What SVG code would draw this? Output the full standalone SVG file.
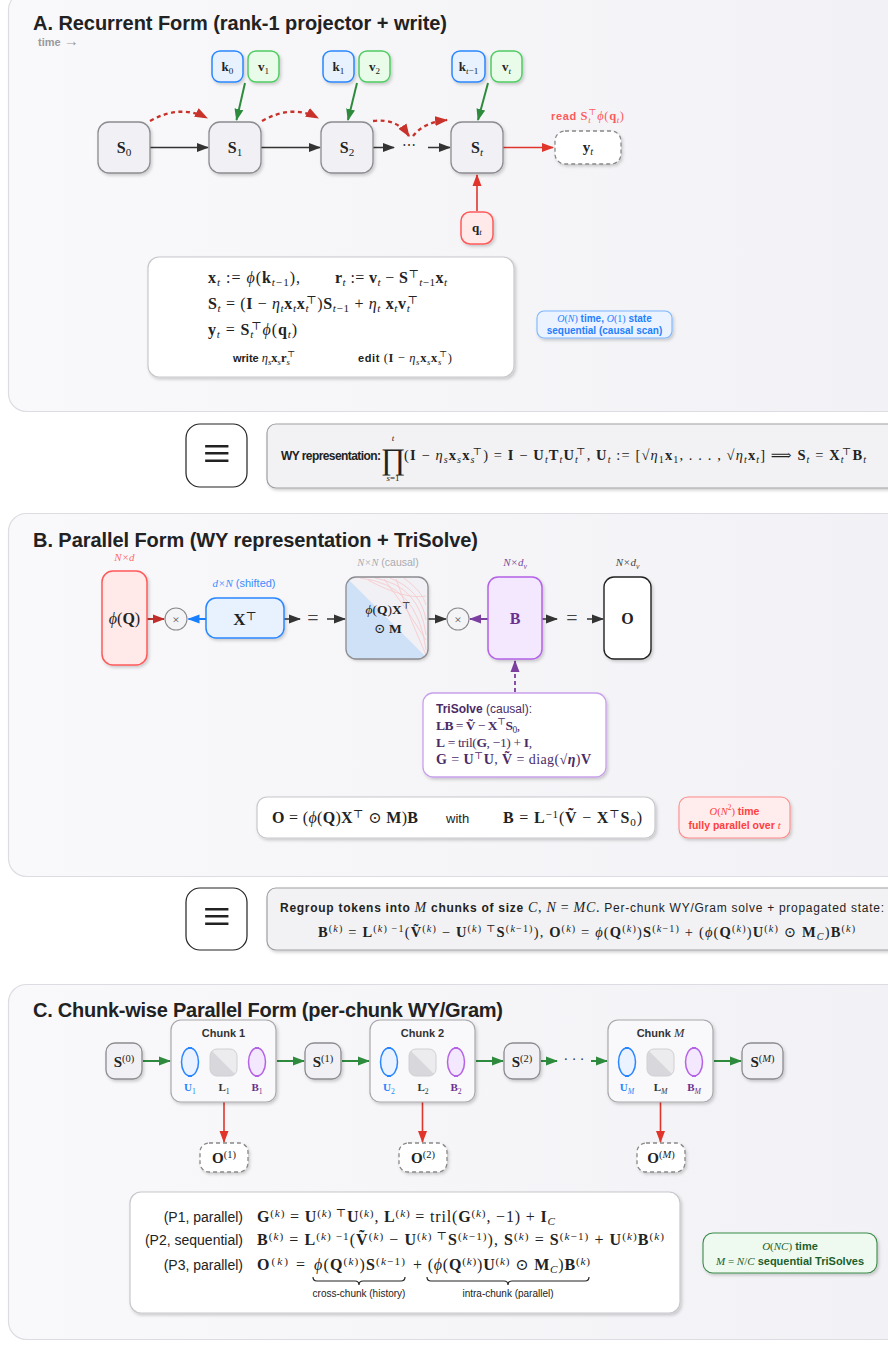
<svg xmlns="http://www.w3.org/2000/svg" width="888" height="1348" viewBox="0 0 888 1348">
<defs>
<style>
.panel{fill:url(#pg);stroke:#dcdce2;stroke-width:1.2}
.title{font-family:"Liberation Sans","DejaVu Sans",sans-serif;font-weight:bold;font-size:20px}
.s{font-family:"Liberation Sans","DejaVu Sans",sans-serif}
.m{font-family:"Liberation Serif","DejaVu Serif",serif}
.bf{font-weight:bold}
.it{font-style:italic}
.sb{font-size:70%;baseline-shift:-3px;font-weight:normal}
.sp{font-size:70%;baseline-shift:5px;font-weight:normal}
.state{fill:#f1f1f5;stroke:#8c8c90;stroke-width:1.3}
.kbox{fill:#e8f2ff;stroke:#2a86ff;stroke-width:1.5}
.vbox{fill:#e9fbe9;stroke:#4fcc62;stroke-width:1.5}
.qbox{fill:#ffe9e9;stroke:#ff5a5a;stroke-width:1.5}
.out{fill:#fff;stroke:#888;stroke-width:1.3;stroke-dasharray:4 3}
.card{fill:#fff;stroke:#c8c8cc;stroke-width:1.2}
.eqv{fill:#fff;stroke:#222;stroke-width:1.2}
.note{fill:#f2f2f4;stroke:#a0a0a4;stroke-width:1.2}
.chunk{fill:#f9f9fb;stroke:#a8a8ac;stroke-width:1.2}
.uell{fill:#eaf3ff;stroke:#2a86ff;stroke-width:1.5}
.bell{fill:#f3e8fd;stroke:#b462e6;stroke-width:1.5}
.circ{fill:#f4f4f6;stroke:#8a8a8e;stroke-width:1.1}
.c-k{fill:none;stroke:#333;stroke-width:1.5}
.c-g{fill:none;stroke:#2e8b3e;stroke-width:2}
.c-r{fill:none;stroke:#e0352b;stroke-width:1.6}
.c-rd{fill:none;stroke:#c8322a;stroke-width:2.4;stroke-dasharray:4 3.5}
.c-dr{fill:none;stroke:#c0302a;stroke-width:2}
.c-b{fill:none;stroke:#1a7fff;stroke-width:2}
.c-p{fill:none;stroke:#7b3fa0;stroke-width:2}
.c-pd{fill:none;stroke:#7b3fa0;stroke-width:1.8;stroke-dasharray:4 3}
</style>
<linearGradient id="pg" x1="0" y1="0" x2="1" y2="0">
<stop offset="0" stop-color="#f9f9fb"/>
<stop offset="1" stop-color="#f2f2f6"/>
</linearGradient>
<filter id="sh" x="-20%" y="-20%" width="150%" height="150%">
<feDropShadow dx="1.5" dy="2" stdDeviation="1.6" flood-color="#000" flood-opacity="0.18"/>
</filter>
<marker id="ak" viewBox="0 0 12 10" refX="11" refY="5" markerWidth="12" markerHeight="10" markerUnits="userSpaceOnUse" orient="auto"><path d="M0,0.5 L12,5 L0,9.5 z" fill="#333"/></marker>
<marker id="ag" viewBox="0 0 12 10" refX="11" refY="5" markerWidth="12" markerHeight="10" markerUnits="userSpaceOnUse" orient="auto"><path d="M0,0.5 L12,5 L0,9.5 z" fill="#2e8b3e"/></marker>
<marker id="ar" viewBox="0 0 12 10" refX="11" refY="5" markerWidth="12" markerHeight="10" markerUnits="userSpaceOnUse" orient="auto"><path d="M0,0.5 L12,5 L0,9.5 z" fill="#e0352b"/></marker>
<marker id="ard" viewBox="0 0 12 10" refX="11" refY="5" markerWidth="13" markerHeight="11" markerUnits="userSpaceOnUse" orient="auto"><path d="M0,0.5 L12,5 L0,9.5 z" fill="#c8322a"/></marker>
<marker id="adr" viewBox="0 0 12 10" refX="11" refY="5" markerWidth="12" markerHeight="10" markerUnits="userSpaceOnUse" orient="auto"><path d="M0,0.5 L12,5 L0,9.5 z" fill="#c0302a"/></marker>
<marker id="ab" viewBox="0 0 12 10" refX="11" refY="5" markerWidth="12" markerHeight="10" markerUnits="userSpaceOnUse" orient="auto"><path d="M0,0.5 L12,5 L0,9.5 z" fill="#1a7fff"/></marker>
<marker id="ap" viewBox="0 0 12 10" refX="11" refY="5" markerWidth="12" markerHeight="10" markerUnits="userSpaceOnUse" orient="auto"><path d="M0,0.5 L12,5 L0,9.5 z" fill="#7b3fa0"/></marker>
<clipPath id="mclip"><rect x="346" y="577" width="82" height="82" rx="10"/></clipPath>
<clipPath id="l1c"><rect x="210" y="1049" width="27" height="27" rx="7"/></clipPath>
<clipPath id="l2c"><rect x="409" y="1049" width="27" height="27" rx="7"/></clipPath>
<clipPath id="lmc"><rect x="647" y="1049" width="27" height="27" rx="7"/></clipPath>
</defs>

<rect width="888" height="1348" fill="#fff"/>

<!-- Panels -->
<g id="panelA"><rect class="panel" x="8.5" y="-8" width="900" height="419.5" rx="18"/>
<text class="title" x="33" y="30" fill="#222" textLength="414">A. Recurrent Form (rank-1 projector + write)</text>
<text x="38" y="46" fill="#9a9a9e"><tspan class="s bf" font-size="11">time </tspan><tspan class="m" font-size="15">→</tspan></text></g>
<g id="panelB"><rect class="panel" x="8.5" y="513.5" width="900" height="363" rx="18"/>
<text class="title" x="33" y="547" fill="#222" textLength="445">B. Parallel Form (WY representation + TriSolve)</text></g>
<g id="panelC"><rect class="panel" x="8.5" y="984.5" width="900" height="355" rx="18"/>
<text class="title" x="33" y="1017" fill="#222" textLength="470">C. Chunk-wise Parallel Form (per-chunk WY/Gram)</text></g>

<!-- Connectors -->
<g id="connectors">
<path class="c-g" d="M245,83 L236.5,120" marker-end="url(#ag)"/>
<path class="c-g" d="M357,83 L348,120" marker-end="url(#ag)"/>
<path class="c-g" d="M488,83 L478,120" marker-end="url(#ag)"/>
<path class="c-k" d="M150,147.5 H208" marker-end="url(#ak)"/>
<path class="c-k" d="M261,147.5 H320" marker-end="url(#ak)"/>
<path class="c-k" d="M372,147.5 H394" marker-end="url(#ak)"/>
<path class="c-k" d="M428,147.5 H450" marker-end="url(#ak)"/>
<path class="c-rd" d="M150,121 Q180,104 207,118" marker-end="url(#ard)"/>
<path class="c-rd" d="M262,121 Q292,104 318,118" marker-end="url(#ard)"/>
<path class="c-rd" d="M373,121 Q397,118 409,136" marker-end="url(#ard)"/>
<path class="c-rd" d="M413,136 Q424,122 447,120" marker-end="url(#ard)"/>
<path class="c-r" d="M503,147.5 H553" marker-end="url(#ar)"/>
<path class="c-r" d="M477,211 V175" marker-end="url(#ar)"/>
<path class="c-g" d="M207,358.5 H221" marker-end="url(#ag)"/>
<path class="c-rd" d="M332,358.5 H351" marker-end="url(#ard)"/>
<path class="c-dr" d="M147,619 H164" marker-end="url(#adr)"/>
<path class="c-b" d="M206,619 H188.5" marker-end="url(#ab)"/>
<path class="c-k" d="M284,619 H300" marker-end="url(#ak)"/>
<path class="c-k" d="M327,619 H345" marker-end="url(#ak)"/>
<path class="c-k" d="M428,619 H446" marker-end="url(#ak)"/>
<path class="c-p" d="M488,619 H470" marker-end="url(#ap)"/>
<path class="c-k" d="M542,619 H557" marker-end="url(#ak)"/>
<path class="c-k" d="M587,619 H603" marker-end="url(#ak)"/>
<path class="c-pd" d="M515,692 V661" marker-end="url(#ap)"/>
<path class="c-g" d="M143,1061 H170" marker-end="url(#ag)"/>
<path class="c-g" d="M277,1061 H304" marker-end="url(#ag)"/>
<path class="c-g" d="M342,1061 H369" marker-end="url(#ag)"/>
<path class="c-g" d="M476,1061 H503" marker-end="url(#ag)"/>
<path class="c-g" d="M541,1061 H557" marker-end="url(#ag)"/>
<path class="c-g" d="M591,1061 H607" marker-end="url(#ag)"/>
<path class="c-g" d="M714,1061 H741" marker-end="url(#ag)"/>
<path class="c-r" d="M224,1102 V1142" marker-end="url(#ar)"/>
<path class="c-r" d="M422.5,1102 V1142" marker-end="url(#ar)"/>
<path class="c-r" d="M660.5,1102 V1142" marker-end="url(#ar)"/>
</g>

<!-- Section A nodes -->
<g id="S0"><rect class="state" x="98" y="122" width="52" height="51" rx="11" filter="url(#sh)"/><text class="m" x="124" y="153" font-size="16" text-anchor="middle" fill="#222"><tspan class="bf">S</tspan><tspan class="sb">0</tspan></text></g>
<g id="S1"><rect class="state" x="209" y="122" width="52" height="51" rx="11" filter="url(#sh)"/><text class="m" x="235" y="153" font-size="16" text-anchor="middle" fill="#222"><tspan class="bf">S</tspan><tspan class="sb">1</tspan></text></g>
<g id="S2"><rect class="state" x="321" y="122" width="52" height="51" rx="11" filter="url(#sh)"/><text class="m" x="347" y="153" font-size="16" text-anchor="middle" fill="#222"><tspan class="bf">S</tspan><tspan class="sb">2</tspan></text></g>
<g id="dotsA"><text class="m" x="409" y="150" font-size="14" text-anchor="middle" fill="#333">⋯</text></g>
<g id="St"><rect class="state" x="451" y="122" width="52" height="51" rx="11" filter="url(#sh)"/><text class="m" x="477" y="153" font-size="16" text-anchor="middle" fill="#222"><tspan class="bf">S</tspan><tspan class="sb it">t</tspan></text></g>
<g id="k0"><rect class="kbox" x="212" y="51" width="31" height="31" rx="8" filter="url(#sh)"/><text class="m" x="227.5" y="71" font-size="13" text-anchor="middle" fill="#222"><tspan class="bf">k</tspan><tspan class="sb">0</tspan></text></g>
<g id="v1"><rect class="vbox" x="248" y="51" width="31" height="31" rx="8" filter="url(#sh)"/><text class="m" x="263.5" y="71" font-size="13" text-anchor="middle" fill="#222"><tspan class="bf">v</tspan><tspan class="sb">1</tspan></text></g>
<g id="k1"><rect class="kbox" x="323" y="51" width="31" height="31" rx="8" filter="url(#sh)"/><text class="m" x="338.5" y="71" font-size="13" text-anchor="middle" fill="#222"><tspan class="bf">k</tspan><tspan class="sb">1</tspan></text></g>
<g id="v2"><rect class="vbox" x="359" y="51" width="31" height="31" rx="8" filter="url(#sh)"/><text class="m" x="374.5" y="71" font-size="13" text-anchor="middle" fill="#222"><tspan class="bf">v</tspan><tspan class="sb">2</tspan></text></g>
<g id="ktm1"><rect class="kbox" x="452" y="51" width="33" height="31" rx="8" filter="url(#sh)"/><text class="m" x="468.5" y="71" font-size="13" text-anchor="middle" fill="#222"><tspan class="bf">k</tspan><tspan class="sb"><tspan class="it">t</tspan>−1</tspan></text></g>
<g id="vt"><rect class="vbox" x="491" y="51" width="31" height="31" rx="8" filter="url(#sh)"/><text class="m" x="506.5" y="71" font-size="13" text-anchor="middle" fill="#222"><tspan class="bf">v</tspan><tspan class="sb it">t</tspan></text></g>
<g id="yt"><rect class="out" x="555" y="131" width="66" height="33" rx="10" filter="url(#sh)"/><text class="m" x="588" y="152" font-size="15" text-anchor="middle" fill="#222"><tspan class="bf">y</tspan><tspan class="sb it">t</tspan></text>
<text x="551" y="120" fill="#ff5a5a" textLength="73"><tspan class="s bf" font-size="11">read </tspan><tspan class="m" font-size="12.5"><tspan class="bf">S</tspan><tspan class="sb it">t</tspan><tspan class="sp" dx="-3">⊤</tspan><tspan class="it">ϕ</tspan>(<tspan class="bf">q</tspan><tspan class="sb it">t</tspan>)</tspan></text></g>
<g id="qt"><rect class="qbox" x="461" y="212" width="32" height="32" rx="9" filter="url(#sh)"/><text class="m" x="477" y="232" font-size="13" text-anchor="middle" fill="#222"><tspan class="bf">q</tspan><tspan class="sb it">t</tspan></text></g>

<g id="formulaA"><rect class="card" x="148" y="257" width="366" height="120" rx="11" filter="url(#sh)"/>
<text class="m" x="208" y="283" font-size="16" fill="#222" textLength="92"><tspan class="bf">x</tspan><tspan class="sb it">t</tspan> := <tspan class="it">ϕ</tspan>(<tspan class="bf">k</tspan><tspan class="sb"><tspan class="it">t</tspan>−1</tspan>),</text>
<text class="m" x="335" y="283" font-size="16" fill="#222" textLength="112"><tspan class="bf">r</tspan><tspan class="sb it">t</tspan> := <tspan class="bf">v</tspan><tspan class="sb it">t</tspan> − <tspan class="bf">S</tspan><tspan class="sp">⊤</tspan><tspan class="sb"><tspan class="it">t</tspan>−1</tspan><tspan class="bf">x</tspan><tspan class="sb it">t</tspan></text>
<text class="m" x="208" y="309" font-size="16" fill="#222" textLength="210"><tspan class="bf">S</tspan><tspan class="sb it">t</tspan> = (<tspan class="bf">I</tspan> − <tspan class="it">η</tspan><tspan class="sb it">t</tspan><tspan class="bf">x</tspan><tspan class="sb it">t</tspan><tspan class="bf">x</tspan><tspan class="sb it">t</tspan><tspan class="sp" dx="-3">⊤</tspan>)<tspan class="bf">S</tspan><tspan class="sb"><tspan class="it">t</tspan>−1</tspan> + <tspan class="it">η</tspan><tspan class="sb it">t</tspan> <tspan class="bf">x</tspan><tspan class="sb it">t</tspan><tspan class="bf">v</tspan><tspan class="sb it">t</tspan><tspan class="sp" dx="-3">⊤</tspan></text>
<text class="m" x="208" y="335" font-size="16" fill="#222" textLength="89"><tspan class="bf">y</tspan><tspan class="sb it">t</tspan> = <tspan class="bf">S</tspan><tspan class="sb it">t</tspan><tspan class="sp" dx="-3">⊤</tspan><tspan class="it">ϕ</tspan>(<tspan class="bf">q</tspan><tspan class="sb it">t</tspan>)</text>
<text x="233" y="362" fill="#222"><tspan class="s bf" font-size="11">write </tspan><tspan class="m" font-size="12.5"><tspan class="it">η</tspan><tspan class="sb it">s</tspan><tspan class="bf">x</tspan><tspan class="sb it">s</tspan><tspan class="bf">r</tspan><tspan class="sb it">s</tspan><tspan class="sp" dx="-3">⊤</tspan></tspan></text>
<text x="358" y="362" fill="#222" textLength="94"><tspan class="s bf" font-size="11">edit </tspan><tspan class="m" font-size="12.5">(<tspan class="bf">I</tspan> − <tspan class="it">η</tspan><tspan class="sb it">s</tspan><tspan class="bf">x</tspan><tspan class="sb it">s</tspan><tspan class="bf">x</tspan><tspan class="sb it">s</tspan><tspan class="sp" dx="-3">⊤</tspan>)</tspan></text>
</g>

<g id="complexA"><rect x="537" y="311" width="135" height="27" rx="7" fill="#eaf3ff" stroke="#7ab6ff" stroke-width="1.1" filter="url(#sh)"/>
<text x="604.5" y="322" font-size="10" text-anchor="middle" fill="#1f7fff"><tspan class="m it">O</tspan><tspan class="m">(</tspan><tspan class="m it">N</tspan><tspan class="m">)</tspan><tspan class="s bf"> time, </tspan><tspan class="m it">O</tspan><tspan class="m">(1)</tspan><tspan class="s bf"> state</tspan></text>
<text class="s bf" x="604.5" y="334" font-size="10" text-anchor="middle" fill="#1f7fff">sequential (causal scan)</text></g>

<g id="equiv1"><rect class="eqv" x="186" y="424" width="61" height="63" rx="14"/><text class="m" x="216.5" y="470" font-size="50" text-anchor="middle" fill="#222">≡</text></g>
<g id="wybox"><rect class="note" x="267" y="424" width="640" height="64" rx="9" filter="url(#sh)"/>
<text class="s bf" x="281" y="460" font-size="12" fill="#222" textLength="100">WY representation:</text>
<text class="m" x="393" y="469" font-size="30" text-anchor="middle" fill="#222">∏</text>
<text class="m it" x="393" y="441" font-size="9" text-anchor="middle" fill="#222">t</text>
<text class="m" x="393" y="481" font-size="9" text-anchor="middle" fill="#222"><tspan class="it">s</tspan>=1</text>
<text class="m" x="404" y="460" font-size="14.5" fill="#222" textLength="462">(<tspan class="bf">I</tspan> − <tspan class="it">η</tspan><tspan class="sb it">s</tspan><tspan class="bf">x</tspan><tspan class="sb it">s</tspan><tspan class="bf">x</tspan><tspan class="sb it">s</tspan><tspan class="sp" dx="-3">⊤</tspan>) = <tspan class="bf">I</tspan> − <tspan class="bf">U</tspan><tspan class="sb it">t</tspan><tspan class="bf">T</tspan><tspan class="sb it">t</tspan><tspan class="bf">U</tspan><tspan class="sb it">t</tspan><tspan class="sp" dx="-3">⊤</tspan>, <tspan class="bf">U</tspan><tspan class="sb it">t</tspan> := [√<tspan class="it">η</tspan><tspan class="sb">1</tspan><tspan class="bf">x</tspan><tspan class="sb">1</tspan>, . . . , √<tspan class="it">η</tspan><tspan class="sb it">t</tspan><tspan class="bf">x</tspan><tspan class="sb it">t</tspan>] ⟹ <tspan class="bf">S</tspan><tspan class="sb it">t</tspan> = <tspan class="bf">X</tspan><tspan class="sb it">t</tspan><tspan class="sp" dx="-3">⊤</tspan><tspan class="bf">B</tspan><tspan class="sb it">t</tspan></text></g>

<!-- Section B nodes -->
<g id="phiQ"><rect x="102" y="571" width="45" height="94" rx="11" fill="#ffe9e9" stroke="#ff5a5a" stroke-width="1.5" filter="url(#sh)"/>
<text class="m" x="124.5" y="624" font-size="16" text-anchor="middle" fill="#222"><tspan class="it">ϕ</tspan>(<tspan class="bf">Q</tspan>)</text>
<text class="m it" x="124.5" y="561" font-size="11" text-anchor="middle" fill="#ff6b6b">N×d</text></g>
<g id="mul1"><circle class="circ" cx="176" cy="619" r="11"/><text class="m" x="176" y="623.5" font-size="13" text-anchor="middle" fill="#555">×</text></g>
<g id="XT"><rect x="206" y="598" width="78" height="40" rx="10" fill="#e8f2ff" stroke="#2a86ff" stroke-width="1.5" filter="url(#sh)"/>
<text class="m" x="245" y="625" font-size="17" text-anchor="middle" fill="#222"><tspan class="bf">X</tspan><tspan class="sp">⊤</tspan></text>
<text x="244" y="587" font-size="11" text-anchor="middle" fill="#3b8cff"><tspan class="m it">d×N</tspan><tspan class="s"> (shifted)</tspan></text></g>
<g id="eqB1"><text class="m" x="313" y="625" font-size="20" text-anchor="middle" fill="#444">=</text></g>
<g id="Mmat"><g filter="url(#sh)"><rect x="346" y="577" width="82" height="82" rx="10" fill="#f1f0f5"/></g>
<g clip-path="url(#mclip)"><polygon points="346,577 428,659 346,659" fill="#cfe1f7"/>
<g fill="none" stroke="#f7c6c6" stroke-width="0.8"><path d="M360,578 Q418,584 426,650"/><path d="M375,578 Q420,586 426,635"/><path d="M390,578 Q421,590 426,620"/><path d="M404,578 Q423,592 426,605"/><path d="M368,580 Q405,600 426,596"/><path d="M384,579 Q408,610 426,640"/><path d="M396,579 Q410,620 426,655"/></g></g>
<rect x="346" y="577" width="82" height="82" rx="10" fill="none" stroke="#8c8c90" stroke-width="1.3"/>
<text class="m" x="388" y="614" font-size="13.5" text-anchor="middle" fill="#222"><tspan class="it">ϕ</tspan>(<tspan class="bf">Q</tspan>)<tspan class="bf">X</tspan><tspan class="sp">⊤</tspan></text>
<text class="m" x="388" y="633" font-size="13.5" text-anchor="middle" fill="#222">⊙ <tspan class="bf">M</tspan></text>
<text x="388" y="566" font-size="10.5" text-anchor="middle" fill="#aaaaae"><tspan class="m it">N×N</tspan><tspan class="s"> (causal)</tspan></text></g>
<g id="mul2"><circle class="circ" cx="458" cy="619" r="11"/><text class="m" x="458" y="623.5" font-size="13" text-anchor="middle" fill="#555">×</text></g>
<g id="Bn"><rect x="488" y="577" width="54" height="82" rx="10" fill="#f3e8fd" stroke="#b462e6" stroke-width="1.5" filter="url(#sh)"/>
<text class="m bf" x="515" y="624" font-size="16" text-anchor="middle" fill="#6a2f8f">B</text>
<text class="m it" x="515" y="566" font-size="11" text-anchor="middle" fill="#7a4a9a">N×d<tspan class="sb">v</tspan></text></g>
<g id="eqB2"><text class="m" x="572" y="625" font-size="20" text-anchor="middle" fill="#444">=</text></g>
<g id="On"><rect x="604" y="577" width="47" height="82" rx="10" fill="#fff" stroke="#222" stroke-width="1.4" filter="url(#sh)"/>
<text class="m bf" x="627.5" y="624" font-size="16" text-anchor="middle" fill="#222">O</text>
<text class="m it" x="627.5" y="566" font-size="11" text-anchor="middle" fill="#444">N×d<tspan class="sb">v</tspan></text></g>

<g id="trisolve"><rect x="423" y="693" width="183" height="84" rx="10" fill="#fff" stroke="#c9a0ec" stroke-width="1.3" filter="url(#sh)"/>
<text x="436" y="713" font-size="12" fill="#4a2b66"><tspan class="s bf">TriSolve</tspan><tspan class="s"> (causal):</tspan></text>
<text class="m" x="436" y="730" font-size="13.5" fill="#4a2b66" textLength="84"><tspan class="bf">LB</tspan> = <tspan class="bf">Ṽ</tspan> − <tspan class="bf">X</tspan><tspan class="sp">⊤</tspan><tspan class="bf">S</tspan><tspan class="sb">0</tspan>,</text>
<text class="m" x="436" y="747" font-size="13.5" fill="#4a2b66" textLength="96"><tspan class="bf">L</tspan> = tril(<tspan class="bf">G</tspan>, −1) + <tspan class="bf">I</tspan>,</text>
<text class="m" x="436" y="764" font-size="14" fill="#4a2b66" textLength="155"><tspan class="bf">G</tspan> = <tspan class="bf">U</tspan><tspan class="sp">⊤</tspan><tspan class="bf">U</tspan>,  <tspan class="bf">Ṽ</tspan> = diag(√<tspan class="it bf">η</tspan>)<tspan class="bf">V</tspan></text></g>

<g id="formulaB"><rect class="card" x="257" y="797" width="398" height="41" rx="10" filter="url(#sh)"/>
<text class="m" x="272" y="823" font-size="16" fill="#222" textLength="146"><tspan class="bf">O</tspan> = (<tspan class="it">ϕ</tspan>(<tspan class="bf">Q</tspan>)<tspan class="bf">X</tspan><tspan class="sp">⊤</tspan> ⊙ <tspan class="bf">M</tspan>)<tspan class="bf">B</tspan></text>
<text class="s" x="446" y="823" font-size="13" fill="#222">with</text>
<text class="m" x="503" y="823" font-size="16" fill="#222" textLength="139"><tspan class="bf">B</tspan> = <tspan class="bf">L</tspan><tspan class="sp">−1</tspan>(<tspan class="bf">Ṽ</tspan> − <tspan class="bf">X</tspan><tspan class="sp">⊤</tspan><tspan class="bf">S</tspan><tspan class="sb">0</tspan>)</text></g>

<g id="complexB"><rect x="679" y="797" width="111" height="41" rx="9" fill="#ffecec" stroke="#ff8a8a" stroke-width="1.1" filter="url(#sh)"/>
<text x="734.5" y="815" font-size="10.5" text-anchor="middle" fill="#ff4040"><tspan class="m it">O</tspan><tspan class="m">(</tspan><tspan class="m it">N</tspan><tspan class="m sp">2</tspan><tspan class="m">)</tspan><tspan class="s bf"> time</tspan></text>
<text x="734.5" y="829" font-size="10.5" text-anchor="middle" fill="#ff4040"><tspan class="s bf">fully parallel over </tspan><tspan class="m it">t</tspan></text></g>

<g id="equiv2"><rect class="eqv" x="186" y="888" width="61" height="62" rx="14"/><text class="m" x="216.5" y="933" font-size="50" text-anchor="middle" fill="#222">≡</text></g>
<g id="regroup"><rect class="note" x="267" y="888" width="640" height="62" rx="9" filter="url(#sh)"/>
<text x="280" y="912" font-size="12" fill="#222" textLength="604"><tspan class="s bf">Regroup tokens into </tspan><tspan class="m it" font-size="14">M</tspan><tspan class="s bf"> chunks of size </tspan><tspan class="m" font-size="14"><tspan class="it">C</tspan>, <tspan class="it">N</tspan> = <tspan class="it">MC</tspan>.</tspan><tspan class="s"> Per-chunk WY/Gram solve + propagated state:</tspan></text>
<text class="m" x="318" y="937" font-size="14.5" fill="#222" textLength="537"><tspan class="bf">B</tspan><tspan class="sp">(<tspan class="it">k</tspan>)</tspan> = <tspan class="bf">L</tspan><tspan class="sp">(<tspan class="it">k</tspan>) −1</tspan>(<tspan class="bf">Ṽ</tspan><tspan class="sp">(<tspan class="it">k</tspan>)</tspan> − <tspan class="bf">U</tspan><tspan class="sp">(<tspan class="it">k</tspan>) ⊤</tspan><tspan class="bf">S</tspan><tspan class="sp">(<tspan class="it">k</tspan>−1)</tspan>),    <tspan class="bf">O</tspan><tspan class="sp">(<tspan class="it">k</tspan>)</tspan> = <tspan class="it">ϕ</tspan>(<tspan class="bf">Q</tspan><tspan class="sp">(<tspan class="it">k</tspan>)</tspan>)<tspan class="bf">S</tspan><tspan class="sp">(<tspan class="it">k</tspan>−1)</tspan> + (<tspan class="it">ϕ</tspan>(<tspan class="bf">Q</tspan><tspan class="sp">(<tspan class="it">k</tspan>)</tspan>)<tspan class="bf">U</tspan><tspan class="sp">(<tspan class="it">k</tspan>)</tspan> ⊙ <tspan class="bf">M</tspan><tspan class="sb it">C</tspan>)<tspan class="bf">B</tspan><tspan class="sp">(<tspan class="it">k</tspan>)</tspan></text></g>

<!-- Section C nodes -->
<g id="S0c"><rect class="state" x="106" y="1043" width="36" height="36" rx="9" filter="url(#sh)"/><text class="m" x="124" y="1067" font-size="15" text-anchor="middle" fill="#222"><tspan class="bf">S</tspan><tspan class="sp">(0)</tspan></text></g>
<g id="chunk1"><rect class="chunk" x="171" y="1020" width="105" height="82" rx="10" filter="url(#sh)"/>
<text class="s bf" x="223.5" y="1037" font-size="11" text-anchor="middle" fill="#333">Chunk 1</text>
<ellipse class="uell" cx="190" cy="1062" rx="8.5" ry="14"/><path d="M188,1048 h4 M188,1076 h4" stroke="#2a86ff" stroke-width="2"/>
<g clip-path="url(#l1c)" filter="url(#sh)"><rect x="210" y="1049" width="27" height="27" fill="#ececef"/><polygon points="210,1049 237,1076 210,1076" fill="#d8d8dc"/></g><rect x="210" y="1049" width="27" height="27" rx="7" fill="none" stroke="#d0d0d4"/>
<ellipse class="bell" cx="257" cy="1062" rx="8.5" ry="14"/><path d="M255,1048 h4 M255,1076 h4" stroke="#b462e6" stroke-width="2"/>
<text class="m bf" x="190" y="1091" font-size="11" text-anchor="middle" fill="#2a86ff">U<tspan class="sb">1</tspan></text>
<text class="m bf" x="224" y="1091" font-size="11" text-anchor="middle" fill="#333">L<tspan class="sb">1</tspan></text>
<text class="m bf" x="257" y="1091" font-size="11" text-anchor="middle" fill="#6a2f8f">B<tspan class="sb">1</tspan></text></g>
<g id="S1c"><rect class="state" x="305" y="1043" width="36" height="36" rx="9" filter="url(#sh)"/><text class="m" x="323" y="1067" font-size="15" text-anchor="middle" fill="#222"><tspan class="bf">S</tspan><tspan class="sp">(1)</tspan></text></g>
<g id="chunk2"><rect class="chunk" x="370" y="1020" width="105" height="82" rx="10" filter="url(#sh)"/>
<text class="s bf" x="422.5" y="1037" font-size="11" text-anchor="middle" fill="#333">Chunk 2</text>
<ellipse class="uell" cx="389" cy="1062" rx="8.5" ry="14"/><path d="M387,1048 h4 M387,1076 h4" stroke="#2a86ff" stroke-width="2"/>
<g clip-path="url(#l2c)" filter="url(#sh)"><rect x="409" y="1049" width="27" height="27" fill="#ececef"/><polygon points="409,1049 436,1076 409,1076" fill="#d8d8dc"/></g><rect x="409" y="1049" width="27" height="27" rx="7" fill="none" stroke="#d0d0d4"/>
<ellipse class="bell" cx="456" cy="1062" rx="8.5" ry="14"/><path d="M454,1048 h4 M454,1076 h4" stroke="#b462e6" stroke-width="2"/>
<text class="m bf" x="389" y="1091" font-size="11" text-anchor="middle" fill="#2a86ff">U<tspan class="sb">2</tspan></text>
<text class="m bf" x="423" y="1091" font-size="11" text-anchor="middle" fill="#333">L<tspan class="sb">2</tspan></text>
<text class="m bf" x="456" y="1091" font-size="11" text-anchor="middle" fill="#6a2f8f">B<tspan class="sb">2</tspan></text></g>
<g id="S2c"><rect class="state" x="504" y="1043" width="36" height="36" rx="9" filter="url(#sh)"/><text class="m" x="522" y="1067" font-size="15" text-anchor="middle" fill="#222"><tspan class="bf">S</tspan><tspan class="sp">(2)</tspan></text></g>
<g id="dotsC"><text class="m" x="574" y="1064" font-size="14" text-anchor="middle" fill="#333">· · ·</text></g>
<g id="chunkM"><rect class="chunk" x="608" y="1020" width="105" height="82" rx="10" filter="url(#sh)"/>
<text x="660.5" y="1037" font-size="11" text-anchor="middle" fill="#333"><tspan class="s bf">Chunk </tspan><tspan class="m it" font-size="12.5">M</tspan></text>
<ellipse class="uell" cx="627" cy="1062" rx="8.5" ry="14"/><path d="M625,1048 h4 M625,1076 h4" stroke="#2a86ff" stroke-width="2"/>
<g clip-path="url(#lmc)" filter="url(#sh)"><rect x="647" y="1049" width="27" height="27" fill="#ececef"/><polygon points="647,1049 674,1076 647,1076" fill="#d8d8dc"/></g><rect x="647" y="1049" width="27" height="27" rx="7" fill="none" stroke="#d0d0d4"/>
<ellipse class="bell" cx="694" cy="1062" rx="8.5" ry="14"/><path d="M692,1048 h4 M692,1076 h4" stroke="#b462e6" stroke-width="2"/>
<text class="m bf" x="627" y="1091" font-size="11" text-anchor="middle" fill="#2a86ff">U<tspan class="sb it">M</tspan></text>
<text class="m bf" x="660.5" y="1091" font-size="11" text-anchor="middle" fill="#333">L<tspan class="sb it">M</tspan></text>
<text class="m bf" x="694" y="1091" font-size="11" text-anchor="middle" fill="#6a2f8f">B<tspan class="sb it">M</tspan></text></g>
<g id="SMc"><rect class="state" x="742" y="1043" width="41" height="36" rx="9" filter="url(#sh)"/><text class="m" x="762.5" y="1067" font-size="15" text-anchor="middle" fill="#222"><tspan class="bf">S</tspan><tspan class="sp">(<tspan class="it">M</tspan>)</tspan></text></g>
<g id="O1"><rect class="out" x="200" y="1143" width="48" height="29" rx="9" filter="url(#sh)"/><text class="m" x="224" y="1163" font-size="15" text-anchor="middle" fill="#222"><tspan class="bf">O</tspan><tspan class="sp">(1)</tspan></text></g>
<g id="O2"><rect class="out" x="399" y="1143" width="48" height="29" rx="9" filter="url(#sh)"/><text class="m" x="423" y="1163" font-size="15" text-anchor="middle" fill="#222"><tspan class="bf">O</tspan><tspan class="sp">(2)</tspan></text></g>
<g id="OM"><rect class="out" x="637" y="1143" width="48" height="29" rx="9" filter="url(#sh)"/><text class="m" x="661" y="1163" font-size="15" text-anchor="middle" fill="#222"><tspan class="bf">O</tspan><tspan class="sp">(<tspan class="it">M</tspan>)</tspan></text></g>

<g id="formulaC"><rect class="card" x="130" y="1192" width="550" height="121" rx="11" filter="url(#sh)"/>
<text class="s" x="243" y="1222" font-size="14" text-anchor="end" fill="#222">(P1, parallel)</text>
<text class="s" x="243" y="1245" font-size="14" text-anchor="end" fill="#222">(P2, sequential)</text>
<text class="s" x="243" y="1270" font-size="14" text-anchor="end" fill="#222">(P3, parallel)</text>
<text class="m" x="257" y="1222" font-size="16" fill="#222" textLength="298"><tspan class="bf">G</tspan><tspan class="sp">(<tspan class="it">k</tspan>)</tspan> = <tspan class="bf">U</tspan><tspan class="sp">(<tspan class="it">k</tspan>) ⊤</tspan><tspan class="bf">U</tspan><tspan class="sp">(<tspan class="it">k</tspan>)</tspan>, <tspan class="bf">L</tspan><tspan class="sp">(<tspan class="it">k</tspan>)</tspan> = tril(<tspan class="bf">G</tspan><tspan class="sp">(<tspan class="it">k</tspan>)</tspan>, −1) + <tspan class="bf">I</tspan><tspan class="sb it">C</tspan></text>
<text class="m" x="257" y="1245" font-size="16" fill="#222" textLength="407"><tspan class="bf">B</tspan><tspan class="sp">(<tspan class="it">k</tspan>)</tspan> = <tspan class="bf">L</tspan><tspan class="sp">(<tspan class="it">k</tspan>) −1</tspan>(<tspan class="bf">Ṽ</tspan><tspan class="sp">(<tspan class="it">k</tspan>)</tspan> − <tspan class="bf">U</tspan><tspan class="sp">(<tspan class="it">k</tspan>) ⊤</tspan><tspan class="bf">S</tspan><tspan class="sp">(<tspan class="it">k</tspan>−1)</tspan>),  <tspan class="bf">S</tspan><tspan class="sp">(<tspan class="it">k</tspan>)</tspan> = <tspan class="bf">S</tspan><tspan class="sp">(<tspan class="it">k</tspan>−1)</tspan> + <tspan class="bf">U</tspan><tspan class="sp">(<tspan class="it">k</tspan>)</tspan><tspan class="bf">B</tspan><tspan class="sp">(<tspan class="it">k</tspan>)</tspan></text>
<text class="m" x="257" y="1270" font-size="16" fill="#222" textLength="48"><tspan class="bf">O</tspan><tspan class="sp">(<tspan class="it">k</tspan>)</tspan> =</text>
<text class="m" x="314" y="1270" font-size="16" fill="#222" textLength="91"><tspan class="it">ϕ</tspan>(<tspan class="bf">Q</tspan><tspan class="sp">(<tspan class="it">k</tspan>)</tspan>)<tspan class="bf">S</tspan><tspan class="sp">(<tspan class="it">k</tspan>−1)</tspan></text>
<text class="m" x="413" y="1270" font-size="16" fill="#222" textLength="177">+ (<tspan class="it">ϕ</tspan>(<tspan class="bf">Q</tspan><tspan class="sp">(<tspan class="it">k</tspan>)</tspan>)<tspan class="bf">U</tspan><tspan class="sp">(<tspan class="it">k</tspan>)</tspan> ⊙ <tspan class="bf">M</tspan><tspan class="sb it">C</tspan>)<tspan class="bf">B</tspan><tspan class="sp">(<tspan class="it">k</tspan>)</tspan></text>
<path d="M313,1277 q0,4 4,4 H355 q4,0 4,4 q0,-4 4,-4 H401 q4,0 4,-4" fill="none" stroke="#222" stroke-width="1.2"/>
<path d="M427,1277 q0,4 4,4 H504 q4,0 4,4 q0,-4 4,-4 H585 q4,0 4,-4" fill="none" stroke="#222" stroke-width="1.2"/>
<text class="s" x="359" y="1297" font-size="10" text-anchor="middle" fill="#222">cross-chunk (history)</text>
<text class="s" x="508" y="1297" font-size="10" text-anchor="middle" fill="#222">intra-chunk (parallel)</text></g>

<g id="complexC"><rect x="703" y="1233" width="174" height="40" rx="10" fill="#eefaef" stroke="#3a8a48" stroke-width="1.1" filter="url(#sh)"/>
<text x="790" y="1250" font-size="11" text-anchor="middle" fill="#1d5e2a"><tspan class="m it">O</tspan><tspan class="m">(</tspan><tspan class="m it">NC</tspan><tspan class="m">)</tspan><tspan class="s bf"> time</tspan></text>
<text x="790" y="1265" font-size="11" text-anchor="middle" fill="#1d5e2a"><tspan class="m it">M</tspan><tspan class="m"> = </tspan><tspan class="m it">N</tspan><tspan class="m">/</tspan><tspan class="m it">C</tspan><tspan class="s bf"> sequential TriSolves</tspan></text></g>
</svg>
